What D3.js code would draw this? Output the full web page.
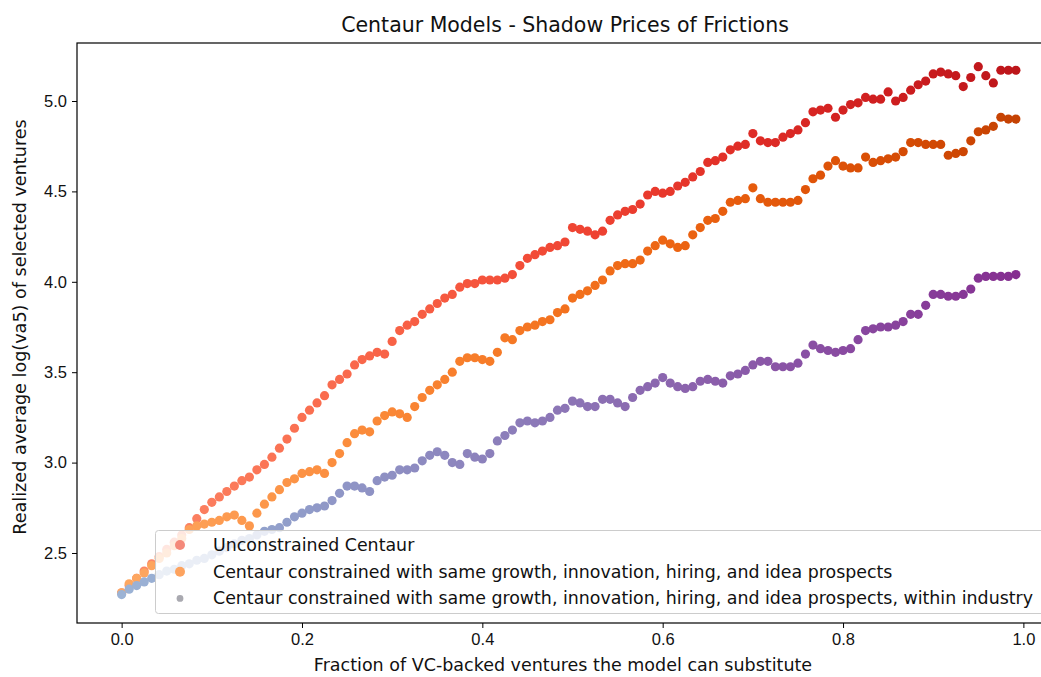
<!DOCTYPE html>
<html>
<head>
<meta charset="utf-8">
<script src="https://cdn.jsdelivr.net/npm/d3@7"></script>
<style>
  html, body { margin: 0; background: #fff; }
  svg { display: block; font-family: "DejaVu Sans", sans-serif; }
</style>
</head>
<body>
<svg id="chart" width="1041" height="677"></svg>
<script>
// x grid: fraction of VC-backed ventures substituted, 120 even steps
const fractions = d3.range(120).map((i) => i / 120);

const unconstrained = [
  2.28, 2.32, 2.36, 2.40, 2.44, 2.48, 2.52, 2.56, 2.60, 2.64,
  2.69, 2.74, 2.78, 2.81, 2.84, 2.87, 2.90, 2.92, 2.96, 2.99,
  3.03, 3.08, 3.13, 3.19, 3.25, 3.29, 3.33, 3.37, 3.43, 3.46,
  3.49, 3.54, 3.57, 3.59, 3.61, 3.60, 3.67, 3.73, 3.76, 3.78,
  3.82, 3.85, 3.88, 3.91, 3.93, 3.97, 3.99, 3.99, 4.01, 4.01,
  4.01, 4.02, 4.04, 4.09, 4.13, 4.15, 4.17, 4.19, 4.20, 4.22,
  4.30, 4.29, 4.28, 4.26, 4.28, 4.34, 4.37, 4.39, 4.40, 4.43,
  4.48, 4.50, 4.49, 4.50, 4.53, 4.55, 4.58, 4.61, 4.66, 4.67,
  4.69, 4.73, 4.75, 4.76, 4.82, 4.78, 4.77, 4.77, 4.80, 4.82,
  4.84, 4.88, 4.94, 4.95, 4.96, 4.91, 4.95, 4.98, 4.99, 5.02,
  5.01, 5.01, 5.05, 5.00, 5.02, 5.06, 5.09, 5.11, 5.15, 5.16,
  5.15, 5.14, 5.08, 5.13, 5.19, 5.14, 5.10, 5.17, 5.17, 5.17
];

const constrained = [
  2.28, 2.33, 2.36, 2.39, 2.43, 2.47, 2.50, 2.54, 2.58, 2.63,
  2.65, 2.66, 2.67, 2.68, 2.70, 2.71, 2.68, 2.65, 2.72, 2.77,
  2.81, 2.85, 2.89, 2.91, 2.94, 2.95, 2.96, 2.94, 3.00, 3.05,
  3.11, 3.16, 3.18, 3.17, 3.23, 3.26, 3.28, 3.27, 3.25, 3.31,
  3.36, 3.40, 3.43, 3.46, 3.50, 3.56, 3.58, 3.58, 3.57, 3.56,
  3.61, 3.69, 3.68, 3.73, 3.75, 3.76, 3.78, 3.79, 3.83, 3.85,
  3.91, 3.93, 3.95, 3.98, 4.01, 4.06, 4.09, 4.10, 4.10, 4.12,
  4.17, 4.20, 4.23, 4.21, 4.19, 4.20, 4.26, 4.30, 4.34, 4.35,
  4.39, 4.44, 4.45, 4.46, 4.52, 4.46, 4.44, 4.44, 4.44, 4.44,
  4.45, 4.51, 4.57, 4.59, 4.64, 4.67, 4.64, 4.63, 4.63, 4.69,
  4.66, 4.67, 4.68, 4.69, 4.72, 4.77, 4.77, 4.76, 4.76, 4.76,
  4.70, 4.71, 4.72, 4.78, 4.83, 4.84, 4.86, 4.91, 4.90, 4.90
];

const withinIndustry = [
  2.27, 2.30, 2.32, 2.34, 2.36, 2.38, 2.40, 2.41, 2.43, 2.44,
  2.46, 2.47, 2.49, 2.51, 2.53, 2.55, 2.57, 2.58, 2.60, 2.62,
  2.63, 2.64, 2.67, 2.70, 2.72, 2.74, 2.75, 2.76, 2.79, 2.83,
  2.87, 2.87, 2.86, 2.84, 2.90, 2.92, 2.93, 2.96, 2.96, 2.97,
  3.01, 3.04, 3.06, 3.04, 3.00, 2.99, 3.05, 3.03, 3.02, 3.05,
  3.12, 3.15, 3.18, 3.22, 3.23, 3.22, 3.23, 3.25, 3.29, 3.30,
  3.34, 3.33, 3.31, 3.31, 3.35, 3.35, 3.33, 3.31, 3.36, 3.40,
  3.42, 3.44, 3.47, 3.44, 3.42, 3.41, 3.42, 3.45, 3.46, 3.45,
  3.44, 3.48, 3.49, 3.51, 3.54, 3.56, 3.56, 3.53, 3.53, 3.53,
  3.55, 3.60, 3.65, 3.63, 3.62, 3.61, 3.62, 3.63, 3.68, 3.73,
  3.74, 3.75, 3.75, 3.76, 3.78, 3.82, 3.82, 3.87, 3.93, 3.93,
  3.92, 3.92, 3.93, 3.96, 4.02, 4.03, 4.03, 4.03, 4.03, 4.04
];

const seriesNames = [
  "Unconstrained Centaur",
  "Centaur constrained with same growth, innovation, hiring, and idea prospects",
  "Centaur constrained with same growth, innovation, hiring, and idea prospects, within industry"
];
const xTicks = [0, 0.2, 0.4, 0.6, 0.8, 1.0];
const yTicks = [2.5, 3.0, 3.5, 4.0, 4.5, 5.0];

const series = [
  { name: seriesNames[0], values: unconstrained, cmap: d3.interpolateReds, legendColor: "#f4897a", legendR: 5 },
  { name: seriesNames[1], values: constrained, cmap: d3.interpolateOranges, legendColor: "#fda35f", legendR: 5 },
  { name: seriesNames[2], values: withinIndustry, cmap: d3.interpolateBuPu, legendColor: "#a9a9b0", legendR: 3.4 }
];

const svg = d3.select("#chart");
const box = { left: 77, right: 1059, top: 43, bottom: 623 };

const x = d3.scaleLinear().domain([-0.0495, 1.0395]).range([box.left, box.right]);
const y = d3.scaleLinear().domain([2.1128, 5.3208]).range([box.bottom, box.top]);
const tcol = (f) => 0.4 + 0.4 * f; // colour position within each colormap

/* points */
const pts = svg.append("g");
series.forEach((s) => {
  pts.append("g").selectAll("circle").data(s.values).join("circle")
    .attr("cx", (d, i) => x(fractions[i]))
    .attr("cy", (d) => y(d))
    .attr("r", 4.6)
    .attr("fill", (d, i) => s.cmap(tcol(fractions[i])));
});

/* axes */
const fmt = d3.format(".1f");
const xAxis = svg.append("g").attr("transform", `translate(0,${box.bottom})`)
  .call(d3.axisBottom(x).tickValues(xTicks).tickFormat(fmt).tickSizeOuter(0).tickSize(5).tickPadding(5));
const yAxis = svg.append("g").attr("transform", `translate(${box.left},0)`)
  .call(d3.axisLeft(y).tickValues(yTicks).tickFormat(fmt).tickSizeOuter(0).tickSize(5).tickPadding(5));
[xAxis, yAxis].forEach((a) => {
  a.select(".domain").remove();
  a.selectAll("line").attr("stroke", "#000").attr("stroke-width", 1);
  a.selectAll("text").attr("fill", "#111").style("font-size", "16.5px");
});

// spines (right one falls just outside the picture)
svg.append("rect")
  .attr("x", box.left).attr("y", box.top)
  .attr("width", box.right - box.left).attr("height", box.bottom - box.top)
  .attr("fill", "none").attr("stroke", "#000").attr("stroke-width", 1.2);

/* legend */
const lg = svg.append("g");
lg.append("rect")
  .attr("x", 155.5).attr("y", 530.5).attr("width", 920).attr("height", 83).attr("rx", 3)
  .attr("fill", "#fff").attr("fill-opacity", 0.8)
  .attr("stroke", "#cccccc").attr("stroke-width", 1);
series.forEach((s, k) => {
  const ly = 545 + k * 26.7;
  lg.append("circle").attr("cx", 180).attr("cy", ly).attr("r", s.legendR).attr("fill", s.legendColor);
  lg.append("text").attr("x", 213).attr("y", ly).attr("dy", "0.35em")
    .style("font-size", "17.4px").attr("fill", "#111").text(s.name);
});

/* titles */
svg.append("text").attr("x", 565).attr("y", 32).attr("text-anchor", "middle")
  .style("font-size", "20.5px").attr("fill", "#111").text("Centaur Models - Shadow Prices of Frictions");
svg.append("text").attr("x", 563).attr("y", 671).attr("text-anchor", "middle")
  .style("font-size", "17.5px").attr("fill", "#111").text("Fraction of VC-backed ventures the model can substitute");
svg.append("text").attr("transform", "translate(26,327) rotate(-90)").attr("text-anchor", "middle")
  .style("font-size", "17.6px").attr("fill", "#111").text("Realized average log(va5) of selected ventures");
</script>
</body>
</html>
